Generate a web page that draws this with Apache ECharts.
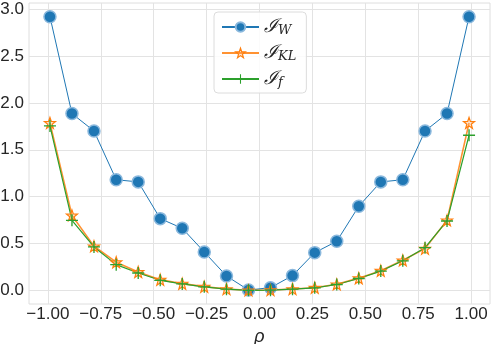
<!DOCTYPE html>
<html>
<head>
<meta charset="utf-8">
<script src="https://cdn.jsdelivr.net/npm/echarts@6/dist/echarts.min.js"></script>
<style>
  html, body { margin: 0; padding: 0; background: #fff; }
  #main { width: 492px; height: 344px; }
</style>
</head>
<body>
<div id="main"></div>
<script>
// rho values (20 evenly spaced points from -0.99 to 0.99)
const rho = [-0.99, -0.886, -0.782, -0.677, -0.573, -0.469, -0.365, -0.261, -0.156, -0.052,
  0.052, 0.156, 0.261, 0.365, 0.469, 0.573, 0.677, 0.782, 0.886, 0.99]

const iW = [2.92, 1.886, 1.70, 1.18, 1.157, 0.765, 0.662, 0.409, 0.153, 0.003,
  0.028, 0.157, 0.402, 0.523, 0.897, 1.157, 1.18, 1.70, 1.886, 2.92]
const iKL = [1.787, 0.80, 0.47, 0.30, 0.196, 0.114, 0.071, 0.039, 0.014, 0.0,
  0.003, 0.014, 0.028, 0.064, 0.13, 0.21, 0.32, 0.445, 0.747, 1.787]
const iF = [1.754, 0.747, 0.463, 0.274, 0.185, 0.107, 0.068, 0.037, 0.012, 0.0,
  0.002, 0.012, 0.027, 0.062, 0.126, 0.205, 0.315, 0.455, 0.74, 1.655]

const xTicks = [-1, -0.75, -0.5, -0.25, 0, 0.25, 0.5, 0.75, 1]
const yTicks = [0, 0.5, 1, 1.5, 2, 2.5, 3]

const seriesNames = ['W', 'KL', 'f']

const starPath = 'path://M0,-10 L2.35,-3.24 9.51,-3.09 3.8,1.24 5.88,8.09 0,4 -5.88,8.09 -3.8,1.24 -9.51,-3.09 -2.35,-3.24 Z'
const plusPath = 'path://M4.45,0 H5.55 V4.45 H10 V5.55 H5.55 V10 H4.45 V5.55 H0 V4.45 H4.45 Z'

const pair = (ys) => rho.map((x, i) => [x, ys[i]])
const fmt = (v, d) => v.toFixed(d).replace('-', '\u2212')

const starStyle = { color: 'rgba(255,180,120,0.35)', borderColor: '#ff7f0e', borderWidth: 1.2 }

const chart = echarts.init(document.getElementById('main'))

const option = {
  animation: false,
  textStyle: { fontFamily: 'Liberation Sans, Arial, sans-serif' },
  grid: {
    left: 29, right: 2, top: 3, bottom: 40,
    outerBoundsMode: 'none',
    containLabel: false,
    show: true,
    borderColor: '#dedede',
    borderWidth: 1
  },
  legend: {
    left: 214,
    top: 12,
    orient: 'vertical',
    itemWidth: 37,
    itemHeight: 12,
    itemGap: 5,
    padding: [4, 10, 4, 7],
    backgroundColor: 'rgba(255,255,255,0.85)',
    borderColor: '#dcdcdc',
    borderWidth: 1,
    borderRadius: 4,
    data: [
      { name: seriesNames[0] },
      { name: seriesNames[1], itemStyle: starStyle },
      { name: seriesNames[2] }
    ],
    formatter: name => `{i|\u2110}{s|${name}}`,
    textStyle: {
      rich: {
        i: { fontFamily: 'DejaVu Serif', fontStyle: 'italic', fontSize: 19, color: '#262626', lineHeight: 20 },
        s: { fontFamily: 'DejaVu Serif', fontStyle: 'italic', fontSize: 13, color: '#262626', verticalAlign: 'bottom', padding: [8, 0, 0, 0], lineHeight: 20 }
      }
    }
  },
  xAxis: {
    type: 'value',
    min: -1.089,
    max: 1.089,
    name: 'ρ',
    nameLocation: 'middle',
    nameGap: 14,
    nameTextStyle: { fontSize: 18, fontStyle: 'italic', color: '#262626', verticalAlign: 'top' },
    axisLine: { show: false },
    axisTick: { show: false, customValues: xTicks },
    axisLabel: {
      customValues: xTicks,
      fontSize: 17,
      color: '#262626',
      margin: 2,
      formatter: v => fmt(v, 2)
    },
    splitLine: { show: true, lineStyle: { color: '#e3e3e3', width: 1 } }
  },
  yAxis: {
    type: 'value',
    min: -0.146,
    max: 3.066,
    axisLine: { show: false },
    axisTick: { show: false, customValues: yTicks },
    axisLabel: {
      customValues: yTicks,
      fontSize: 17,
      color: '#262626',
      margin: 5,
      formatter: v => fmt(v, 1)
    },
    splitLine: { show: true, lineStyle: { color: '#e3e3e3', width: 1 } }
  },
  series: [
    {
      name: 'W',
      type: 'line',
      data: pair(iW),
      symbol: 'circle',
      symbolSize: 12,
      lineStyle: { color: '#1f77b4', width: 1 },
      itemStyle: { color: '#1f77b4', borderColor: '#8ab8dd', borderWidth: 1.5 }
    },
    {
      name: 'KL',
      type: 'line',
      data: pair(iKL),
      symbol: starPath,
      symbolSize: 11,
      lineStyle: { color: '#ff7f0e', width: 1.6, opacity: 0.85 },
      itemStyle: starStyle
    },
    {
      name: 'f',
      type: 'line',
      data: pair(iF),
      symbol: plusPath,
      symbolSize: 12,
      lineStyle: { color: '#2ca02c', width: 1.2 },
      itemStyle: { color: '#2ca02c' }
    }
  ]
}

chart.setOption(option)
</script>
</body>
</html>
